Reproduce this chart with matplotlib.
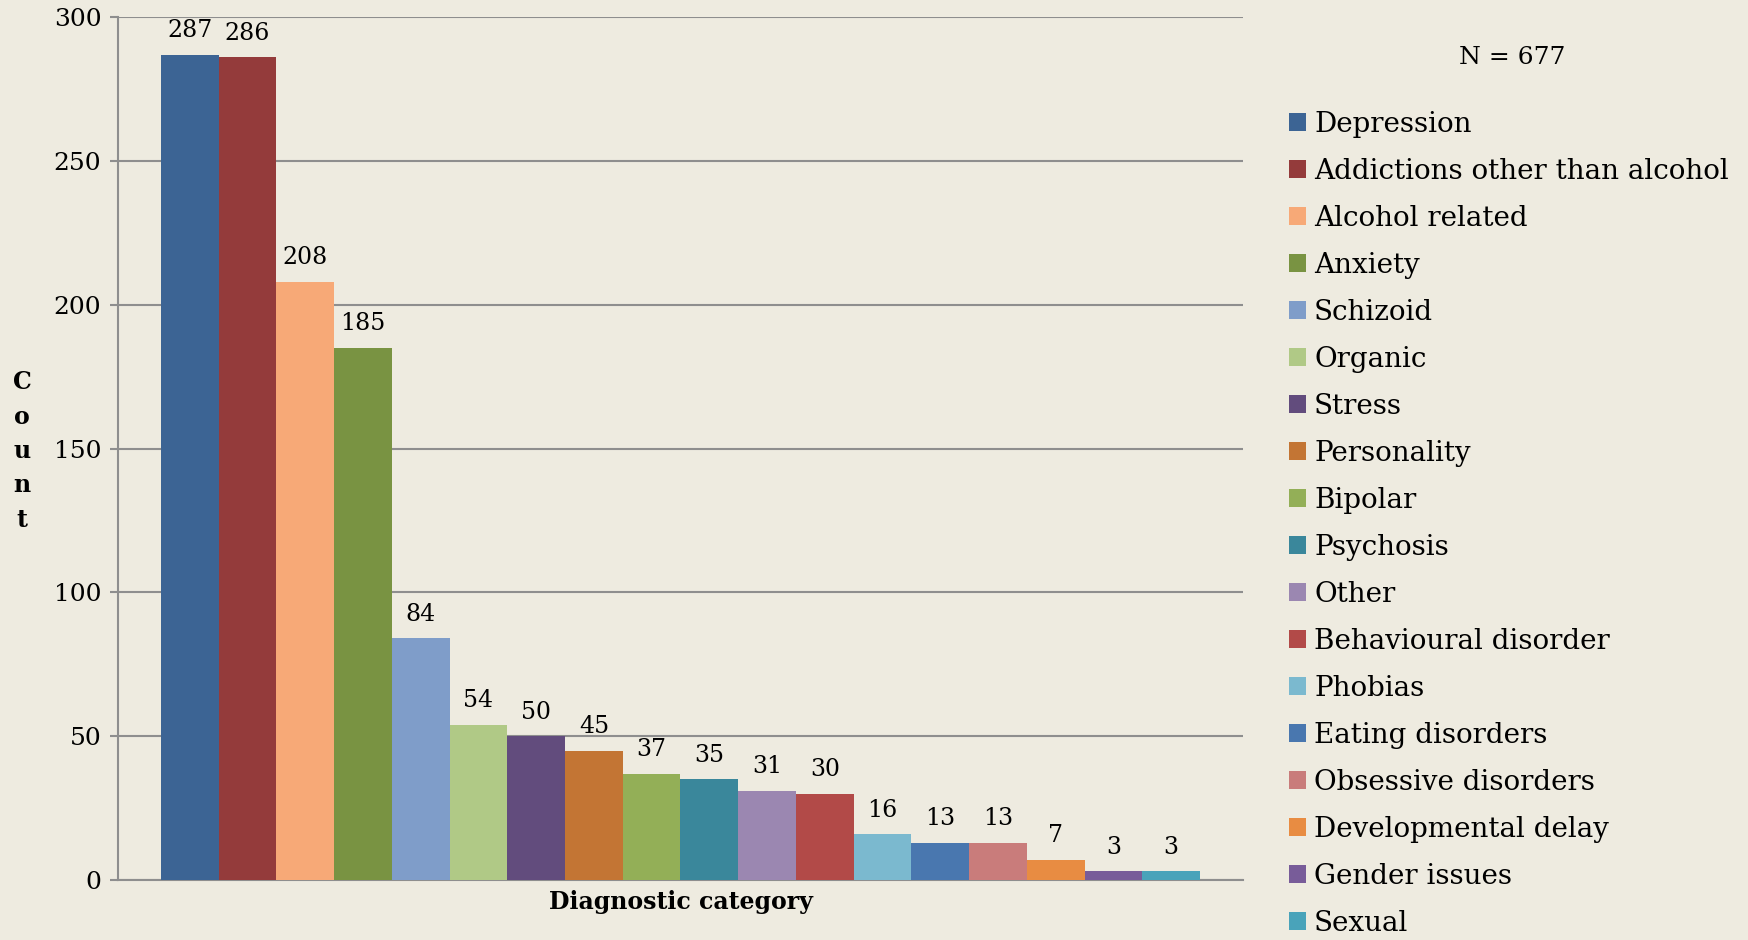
import matplotlib.pyplot as plt
from matplotlib.patches import Patch

categories = ['Depression', 'Addictions other than alcohol', 'Alcohol related', 'Anxiety',
              'Schizoid', 'Organic', 'Stress', 'Personality', 'Bipolar', 'Psychosis',
              'Other', 'Behavioural disorder', 'Phobias', 'Eating disorders',
              'Obsessive disorders', 'Developmental delay', 'Gender issues', 'Sexual']
counts = [287, 286, 208, 185, 84, 54, 50, 45, 37, 35, 31, 30, 16, 13, 13, 7, 3, 3]
colors = ['#3c6494', '#943b3b', '#f7a977', '#799342', '#7f9dc9', '#b0c986', '#624c7d',
          '#c37534', '#93af57', '#3a879b', '#9b87b1', '#b24a48', '#7bb9cf', '#4977af',
          '#c97c7b', '#e88c42', '#785c99', '#49a3ba']
n_total = 677

bg = '#eeebe0'
grid_c = '#8e8e8e'
plt.rcParams['font.family'] = 'DejaVu Serif'

fig = plt.figure(figsize=(17.48, 9.40), dpi=100, facecolor=bg)
ax = fig.add_axes([0.0675, 0.0638, 0.6436, 0.918], facecolor=bg)

x = list(range(len(counts)))
bars = ax.bar(x, counts, width=1.0, color=colors, zorder=3)

for xi, v in zip(x, counts):
    ax.annotate(str(v), (xi, v), xytext=(0, 9), textcoords='offset points',
                ha='center', va='bottom', fontsize=17)

ax.set_xlim(-1.244, len(counts) - 1 + 1.244)
ax.set_ylim(0, 300)
ax.set_yticks(range(0, 301, 50))
ax.yaxis.grid(True, color=grid_c, lw=1.5, zorder=0)
ax.set_xticks([])
ax.tick_params(axis='y', labelsize=18, length=6, width=1.5, color=grid_c, pad=6)

for side in ['top', 'right']:
    ax.spines[side].set_visible(False)
for side in ['left', 'bottom']:
    ax.spines[side].set_color(grid_c)
    ax.spines[side].set_linewidth(1.5)

ax.set_xlabel('Diagnostic category', fontsize=17, fontweight='bold', labelpad=7)
fig.text(22 / 1748, 1 - 451 / 940, 'C\no\nu\nn\nt', ha='center', va='center',
         fontsize=17, fontweight='bold', linespacing=1.55)

fig.text(1512 / 1748, 1 - 57 / 940, f'N = {n_total}', ha='center', va='center', fontsize=18)

handles = [Patch(facecolor=c, edgecolor='none') for c in colors]
fig.legend(handles, categories, loc='upper left', bbox_to_anchor=(1289 / 1748, 1 - 111 / 940),
           frameon=False, fontsize=20, handlelength=0.6, handleheight=0.6,
           handletextpad=0.3, labelspacing=0.72, borderaxespad=0, borderpad=0)

plt.savefig('out.png', dpi=100, facecolor=bg)
